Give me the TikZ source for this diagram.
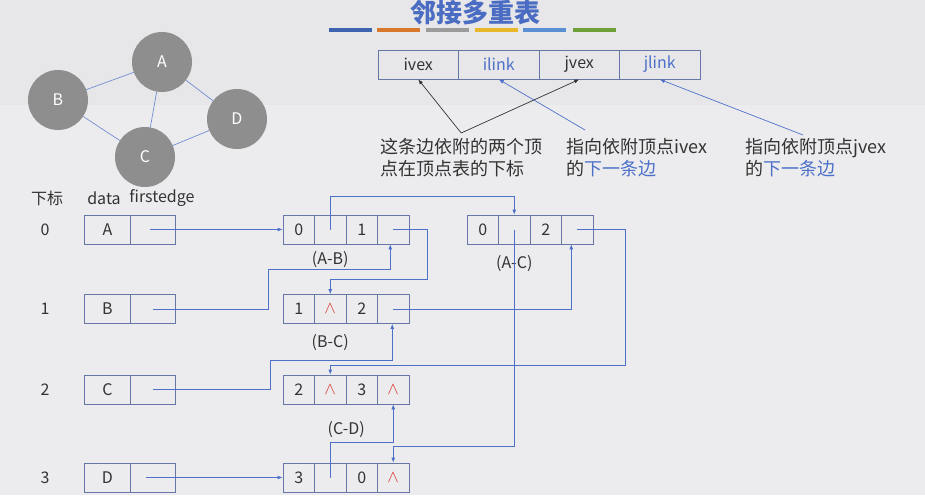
\documentclass[tikz,border=0pt]{standalone}
\usepackage{fontspec}
\setmainfont{Noto Sans CJK SC}
\usetikzlibrary{arrows.meta}
\usepackage{xcolor}
\definecolor{bgback}{HTML}{ECECEE}
\definecolor{bgtop}{HTML}{E7E7E9}
\definecolor{ttblue}{HTML}{4A6CC2}
\definecolor{lkblue}{HTML}{4D70C8}
\definecolor{boxline}{HTML}{6677A6}
\definecolor{nodegray}{HTML}{8E8E8E}
\definecolor{txgray}{HTML}{333333}
\definecolor{ptred}{HTML}{D9382E}
\definecolor{barA}{HTML}{3E64B0}
\definecolor{barB}{HTML}{D9782D}
\definecolor{barC}{HTML}{9B9B9B}
\definecolor{barD}{HTML}{E8B72A}
\definecolor{barE}{HTML}{5B8FD4}
\definecolor{barF}{HTML}{6FA03A}
\newcommand{\emptyptr}{\textcolor{ptred}{\fs{19}$\wedge$}}
\newcommand{\fs}[1]{\fontsize{#1}{#1}\selectfont}

\tikzset{
  cell/.style={draw=boxline, line width=0.8pt, minimum width=31.5pt, minimum height=29pt,
    inner sep=0pt, text=txgray, font=\fs{16}},
  vcell/.style={cell, minimum width=45.5pt},
  reccell/.style={cell, minimum width=80.5pt},
  gnode/.style={circle, fill=nodegray, minimum size=60pt, inner sep=0pt, text=white, font=\fs{16}},
  gedge/.style={lkblue!80, line width=0.7pt},
  link/.style={lkblue, line width=0.8pt, -{Latex[length=5pt,width=4pt]}},
  note/.style={anchor=north west, align=left, inner sep=0pt, text=txgray, font=\fontsize{18}{22}\selectfont},
  lbl/.style={text=txgray, font=\fs{16}, inner sep=0pt},
}

\begin{document}
\begin{tikzpicture}[x=1pt, y=-1pt]
        \fill[bgback] (0,0) rectangle (925,495);
        \fill[bgtop] (0,0) rectangle (925,105);
        \useasboundingbox (0,0) rectangle (925,495);

        % title
        \node[text=ttblue, font=\fs{26}\bfseries] (title) at (475,13) {邻接多重表};
        \foreach \x/\c in {329/barA, 377/barB, 426/barC, 475/barD, 523/barE, 573/barF}
          \fill[\c] (\x,28.5) rectangle ++(43,4);

        % graph
        \node[gnode] (gA) at (162,62) {A};
        \node[gnode] (gB) at (58,100) {B};
        \node[gnode] (gD) at (237,119) {D};
        \node[gnode] (gC) at (145,157) {C};
        \foreach \a/\b in {A/B, A/C, A/D, B/C, C/D}
          \draw[gedge] (g\a) -- (g\b);

        % edge record layout
        \foreach \k/\t in {1/ivex, 2/\textcolor{lkblue}{ilink}, 3/jvex, 4/\textcolor{lkblue}{jlink}}
          \node[reccell] (rec-\k) at (378+80.5*\k-40.25,64.5) {\t};
        \node[note] (note1) at (380,138) {这条边依附的两个顶\\点在顶点表的下标};
        \node[note] (note2) at (566,138) {指向依附顶点ivex\\的\textcolor{lkblue}{下一条边}};
        \node[note] (note3) at (745,138) {指向依附顶点jvex\\的\textcolor{lkblue}{下一条边}};
        \draw[txgray, line width=0.7pt, -{Latex[length=5pt,width=4pt]}] ([yshift=5pt]note1.north) -- (rec-1.south);
        \draw[txgray, line width=0.7pt, -{Latex[length=5pt,width=4pt]}] ([yshift=5pt]note1.north) -- (rec-3.south);
        \draw[link, line width=0.7pt] ([xshift=19pt,yshift=8pt]note2.north west) -- (rec-2.south);
        \draw[link, line width=0.7pt] ([xshift=58pt,yshift=3pt]note3.north west) -- (rec-4.south);

        % vertex table
        \node[lbl] (hidx) at (47,198) {下标};
        \node[lbl] (hdata) at (104,198) {data};
        \node[lbl] (hfirst) at (162,198) {firstedge};
        \foreach \v/\i/\y in {A/0/229.5, B/1/309, C/2/389.5, D/3/477.5} {
          \node[lbl] (idx\i) at (45,\y) {\i};
          \node[vcell] (v\v-1) at (107.5,\y) {\v};
          \node[vcell] (v\v-2) at (153,\y) {};
        }

        % edge nodes
        \foreach \r/\x/\y/\a/\b/\c/\d in {ab/283/229.5/0//1/, ac/467/229.5/0//2/,
            bc/283/309/1/\emptyptr/2/, cd/283/389.5/2/\emptyptr/3/\emptyptr,
            dx/283/477.5/3//0/\emptyptr}
          \foreach \k/\t in {1/\a, 2/\b, 3/\c, 4/\d}
            \node[cell] (\r-\k) at (\x+31.5*\k-15.75,\y) {\t};
        \node[lbl, below=7pt] (lab) at (ab-2.south) {(A-B)};
        \node[lbl, below=11pt] (lac) at (ac-2.south) {(A-C)};
        \node[lbl, below=10pt] (lbc) at (bc-2.south) {(B-C)};
        \node[lbl, below=17pt] (lcd) at ([xshift=16pt]cd-2.south) {(C-D)};

        % links
        \draw[link] ([xshift=-3pt]vA-2.center) -- (ab-1.west);
        \draw[link] (vB-2.center) -| (268,269) -| ([xshift=-3pt]ab-4.south);
        \draw[link] (vC-2.center) -| (270,360) -| ([xshift=-1pt]bc-4.south);
        \draw[link] ([xshift=-7pt]vD-2.center) -- (dx-1.west);
        \draw[link] (ab-2.center) -- ++(0,-33) -| (ac-2.north);
        \draw[link] (ab-4.center) -| (427,279) -| (bc-2.north);
        \draw[link] (ac-2.center) -- ++(0,217) -| (dx-4.north);
        \draw[link] (ac-4.center) -- ++(48,0) -- ++(0,136) -| (cd-2.north);
        \draw[link] (bc-4.center) -| ([xshift=-6pt]ac-4.south);
        \draw[link] (dx-2.center) -- ++(0,-35) -| (cd-4.south);
      \end{tikzpicture}
\end{document}
